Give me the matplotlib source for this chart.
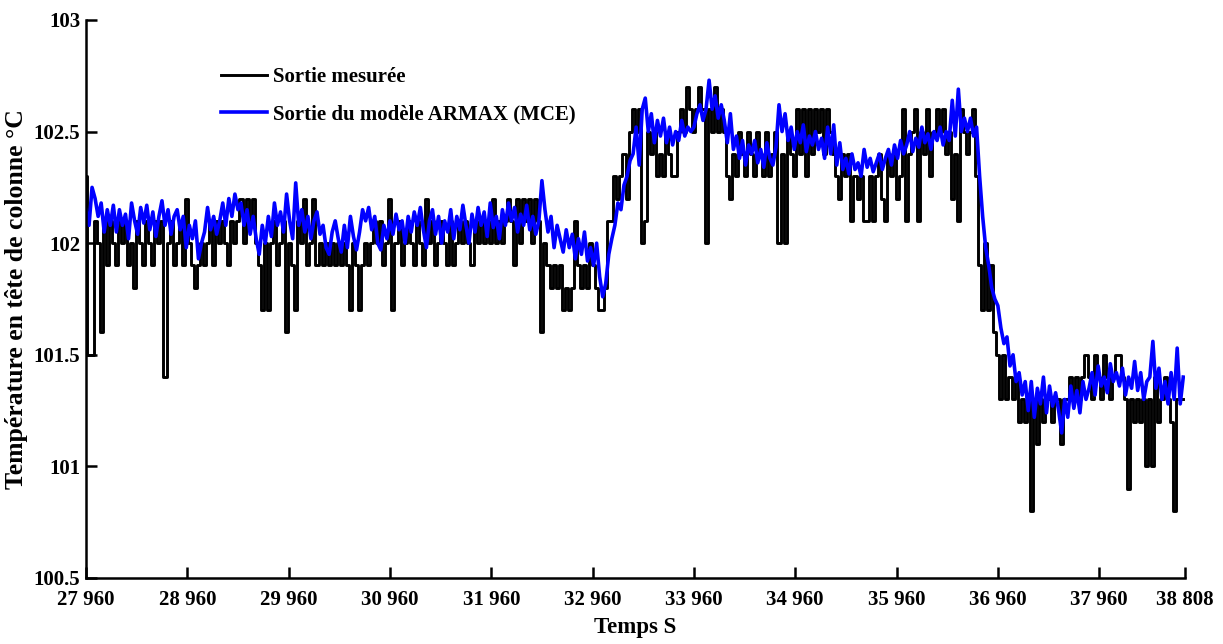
import numpy as np
import matplotlib
matplotlib.use("Agg")
import matplotlib.pyplot as plt

# sampling of the curves (s), one value every 30 s
pas = 30
t_debut = 27960
t_fin = 38808

# --- sortie mesuree (degC), par phase ---
mesure_palier_bas = [
    102.3, 101.5, 101.5, 102.1, 102.0, 101.6, 102.1, 101.9, 102.1, 102.0,
    101.9, 102.1, 102.0, 102.1, 101.9, 102.0, 101.8, 102.1, 102.0, 101.9,
    102.1, 102.0, 101.9, 102.1, 102.0, 102.1, 101.4, 102.0, 102.1, 101.9,
    102.0, 102.1, 101.9, 102.2, 102.0, 101.9, 101.8, 101.9, 102.0, 101.9,
    102.0, 102.1, 101.9, 102.1, 102.0, 102.1, 102.0, 101.9, 102.1, 102.0,
    102.1, 102.2, 102.0, 102.2, 102.1, 102.2, 102.0, 101.9, 101.7, 102.0,
    101.7, 102.0, 102.1, 101.9, 102.0, 102.1, 101.6, 102.0, 101.9, 101.7,
    102.1, 102.0, 102.2, 101.9, 102.0, 102.2, 101.9, 102.0, 101.9, 102.0,
    101.9, 102.0, 101.9, 102.0, 101.9, 102.0, 101.9, 101.7, 102.0, 101.9,
    101.7, 101.9, 102.0, 101.9, 102.0, 102.1, 102.0, 102.1, 101.9, 102.0,
    102.2, 101.7, 102.0, 102.1, 101.9, 102.0, 102.1, 102.0, 101.9, 102.1,
    102.0, 101.9, 102.2, 102.0, 102.1, 101.9, 102.0, 102.1, 102.0, 101.9,
    102.1, 101.9, 102.0, 102.1, 102.0, 102.1, 102.0, 101.9, 102.1, 102.0,
    102.1, 102.0, 102.1, 102.0, 102.2, 102.0, 102.1, 102.0, 102.1, 102.2,
    102.1, 101.9, 102.2, 102.0, 102.2, 102.1, 102.2, 102.0, 102.2, 102.1,
    101.6, 102.0, 101.9, 101.8, 101.9, 101.8, 101.9, 101.7, 101.8, 101.7,
]
mesure_palier_haut = [
    101.8, 102.1, 101.9, 101.8, 101.9, 101.8, 102.0, 101.9, 101.8, 101.7,
    101.7, 101.8, 102.1, 102.1, 102.3, 102.2, 102.3, 102.4, 102.2, 102.5,
    102.6, 102.5, 102.6, 102.0, 102.1, 102.5, 102.4, 102.5, 102.3, 102.4,
    102.3, 102.5, 102.4, 102.3, 102.3, 102.5, 102.6, 102.5, 102.7, 102.6,
    102.5, 102.6, 102.7, 102.6, 102.0, 102.6, 102.5, 102.7, 102.5, 102.6,
    102.5, 102.3, 102.2, 102.4, 102.3, 102.5, 102.4, 102.3, 102.5, 102.4,
    102.3, 102.5, 102.4, 102.3, 102.5, 102.3, 102.4, 102.5, 102.0, 102.4,
    102.0, 102.5, 102.4, 102.3, 102.6, 102.4, 102.6, 102.3, 102.6, 102.4,
    102.6, 102.5, 102.6, 102.4, 102.6, 102.5, 102.4, 102.3, 102.2, 102.4,
    102.3, 102.4, 102.1, 102.3, 102.2, 102.3, 102.1, 102.1, 102.3, 102.1,
    102.3, 102.4, 102.2, 102.1, 102.4, 102.3, 102.4, 102.2, 102.3, 102.6,
    102.1, 102.4, 102.5, 102.6, 102.1, 102.5, 102.4, 102.6, 102.3, 102.5,
    102.6, 102.5, 102.6, 102.4, 102.5, 102.2, 102.4, 102.1, 102.6, 102.5,
]
mesure_palier_final = [
    102.4, 102.5, 102.6, 102.3, 101.9, 101.7, 102.0, 101.7, 101.9, 101.6,
    101.5, 101.3, 101.5, 101.3, 101.4, 101.3, 101.4, 101.2, 101.3, 101.2,
    101.3, 100.8, 101.3, 101.1, 101.3, 101.2, 101.3, 101.3, 101.2, 101.3,
    101.3, 101.1, 101.3, 101.3, 101.4, 101.3, 101.4, 101.3, 101.4, 101.5,
    101.4, 101.3, 101.5, 101.4, 101.3, 101.5, 101.4, 101.3, 101.4, 101.5,
    101.5, 101.4, 101.3, 100.9, 101.3, 101.2, 101.3, 101.2, 101.3, 101.0,
    101.3, 101.0, 101.4, 101.2, 101.3, 101.4, 101.3, 101.2, 100.8, 101.3,
    101.3, 101.3,
]

# --- sortie du modele ARMAX (MCE) ---
modele_palier_bas = [
    102.15, 102.08, 102.25, 102.20, 102.12, 102.18, 102.05, 102.15, 102.08, 102.17,
    102.05, 102.15, 102.08, 102.13, 102.02, 102.18, 102.10, 102.04, 102.16, 102.09,
    102.17, 102.06, 102.14, 102.03, 102.12, 102.19, 102.08, 102.15, 102.04, 102.12,
    102.15, 102.06, 102.12, 101.98, 102.08, 102.02, 102.10, 101.93, 102.00, 102.05,
    102.16, 102.06, 102.12, 102.04, 102.10, 102.18, 102.08, 102.20, 102.12, 102.22,
    102.15, 102.18, 102.08, 102.15, 102.04, 102.12, 102.02, 101.95, 102.08, 102.00,
    102.12, 102.03, 102.18, 102.08, 102.14, 102.05, 102.22, 102.10, 102.02, 102.27,
    102.08, 102.15, 102.05, 102.12, 102.02, 102.10, 102.14, 102.04, 102.08, 101.98,
    101.95, 102.05, 102.10, 102.02, 101.96, 102.08, 101.98, 102.12, 102.03, 101.97,
    102.05, 102.15, 102.10, 102.16, 102.06, 102.12, 102.00, 101.97, 102.08, 102.02,
    102.10, 102.04, 102.13, 102.06, 102.10, 102.00, 102.12, 102.05, 102.14, 102.08,
    102.16, 102.06, 101.98, 102.10, 102.15, 102.04, 102.12, 102.00, 102.10, 102.05,
    102.15, 102.02, 102.12, 102.06, 102.17, 102.08, 102.00, 102.13, 102.05, 102.16,
    102.08, 102.14, 102.03, 102.18, 102.07, 102.12, 102.02, 102.15, 102.08, 102.18,
    102.10, 102.16, 102.05, 102.13, 102.08, 102.17, 102.06, 102.12, 102.04, 102.10,
    102.28, 102.15, 102.05, 102.12, 101.98, 102.08, 102.02, 101.96, 102.06, 101.98,
]
modele_palier_haut = [
    102.04, 101.93, 102.02, 101.95, 102.05, 101.92, 101.98, 101.90, 102.00, 101.85,
    101.76, 101.82, 101.95, 102.02, 102.08, 102.18, 102.15, 102.26, 102.30, 102.37,
    102.40, 102.52, 102.35, 102.60, 102.65, 102.50, 102.58, 102.45, 102.55, 102.48,
    102.56, 102.45, 102.52, 102.44, 102.50, 102.46, 102.55, 102.48, 102.52, 102.50,
    102.52, 102.58, 102.62, 102.55, 102.60, 102.73, 102.60, 102.66, 102.56, 102.62,
    102.55, 102.45, 102.58, 102.42, 102.48, 102.38, 102.46, 102.35, 102.44, 102.40,
    102.46, 102.36, 102.42, 102.34, 102.45, 102.38, 102.35, 102.43, 102.62, 102.50,
    102.58, 102.46, 102.52, 102.42, 102.50, 102.45, 102.53, 102.41, 102.48, 102.44,
    102.50, 102.42, 102.47, 102.38, 102.52, 102.40, 102.53, 102.35, 102.45, 102.33,
    102.38, 102.31, 102.40, 102.33, 102.36, 102.30, 102.42, 102.34, 102.38, 102.32,
    102.36, 102.40, 102.33, 102.38, 102.42, 102.35, 102.44, 102.38, 102.46, 102.40,
    102.44, 102.50, 102.41, 102.47, 102.43, 102.52, 102.45, 102.49, 102.42, 102.50,
    102.46, 102.52, 102.44, 102.50, 102.46, 102.64, 102.48, 102.69, 102.50, 102.56,
]
modele_palier_final = [
    102.50, 102.56, 102.48, 102.52, 102.30, 102.12, 101.98, 101.90, 101.80, 101.75,
    101.72, 101.62, 101.55, 101.58, 101.45, 101.50, 101.38, 101.42, 101.32, 101.38,
    101.25, 101.38, 101.22, 101.35, 101.28, 101.40, 101.24, 101.36, 101.27, 101.33,
    101.25, 101.15, 101.30, 101.22, 101.36, 101.26, 101.34, 101.24, 101.38, 101.30,
    101.35, 101.42, 101.32, 101.45, 101.36, 101.40, 101.33, 101.46, 101.38, 101.42,
    101.36, 101.44, 101.32, 101.40, 101.35, 101.47, 101.34, 101.42, 101.30, 101.38,
    101.40, 101.56, 101.35, 101.44, 101.30, 101.38, 101.28, 101.42, 101.30, 101.53,
    101.28, 101.40,
]

xticks = [27960, 28960, 29960, 30960, 31960, 32960, 33960, 34960, 35960, 36960, 37960, 38808]
xtick_labels = ["27 960", "28 960", "29 960", "30 960", "31 960", "32 960",
                "33 960", "34 960", "35 960", "36 960", "37 960", "38 808"]
yticks = [100.5, 101, 101.5, 102, 102.5, 103]
ytick_labels = ["100.5", "101", "101.5", "102", "102.5", "103"]

mesure = np.array(mesure_palier_bas + mesure_palier_haut + mesure_palier_final)
modele = np.array(modele_palier_bas + modele_palier_haut + modele_palier_final)
temps = np.arange(t_debut, t_fin + 1, pas)[:len(mesure)]

plt.rcParams['font.family'] = ['Liberation Serif', 'DejaVu Serif']
plt.rcParams['font.weight'] = 'bold'

fig = plt.figure(figsize=(12.23, 6.44), dpi=100)
ax = fig.add_axes([0.0703, 0.1025, 0.8987, 0.8665])

# measured signal is quantised, drawn as a square wave
ax.plot(temps, mesure, color='black', lw=2.1, drawstyle='steps-mid',
        label='Sortie mesurée')
ax.plot(temps, modele, color='#0000ff', lw=2.6, label='Sortie du modèle ARMAX (MCE)')

ax.set_xlim(t_debut, t_fin)
ax.set_ylim(100.5, 103)
ax.set_xticks(xticks)
ax.set_xticklabels(xtick_labels, fontsize=15, fontweight='bold')
ax.set_yticks(yticks)
ax.set_yticklabels(ytick_labels, fontsize=15, fontweight='bold')
ax.tick_params(direction='in', length=8, width=1.8)
ax.tick_params(axis='x', pad=9)
ax.tick_params(axis='y', pad=4)

for s in ['top', 'right']:
    ax.spines[s].set_visible(False)
for s in ['left', 'bottom']:
    ax.spines[s].set_linewidth(1.8)

ax.set_xlabel('Temps S', fontsize=16.5, fontweight='bold', labelpad=5)
ax.set_ylabel('Température en tête de colonne °C', fontsize=18.5, fontweight='bold', labelpad=4)

ax.legend(loc='upper left', bbox_to_anchor=(0.115, 0.93), frameon=False,
          fontsize=15, handlelength=2.2, handletextpad=0.3, labelspacing=0.8,
          borderaxespad=0)

fig.savefig('out.png', dpi=100)
